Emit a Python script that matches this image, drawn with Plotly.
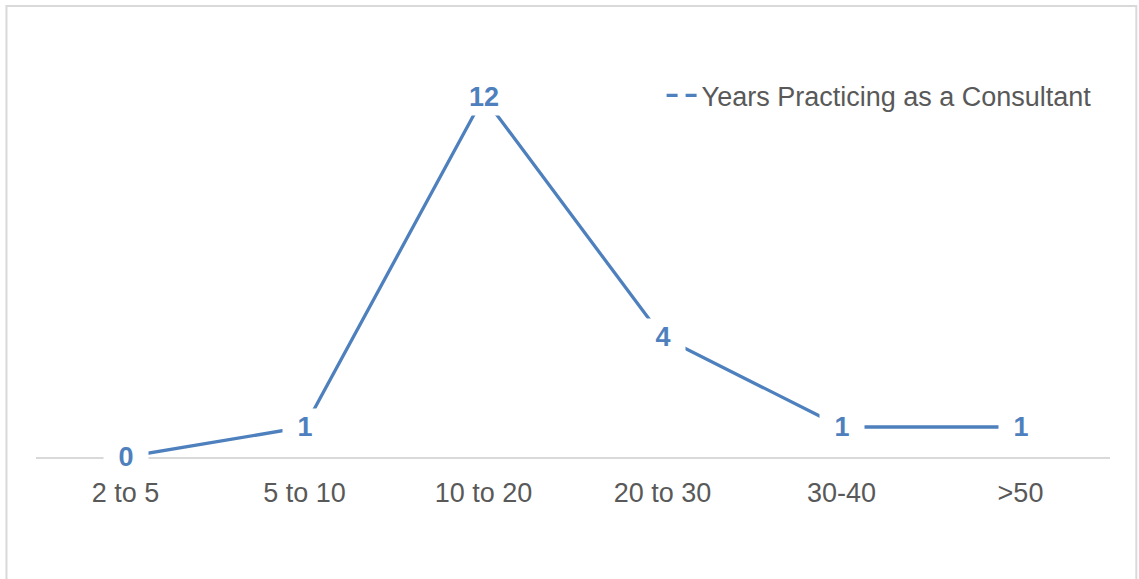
import plotly.graph_objects as go

# Years practicing as a consultant: respondent counts per band
categories = ["2 to 5", "5 to 10", "10 to 20", "20 to 30", "30-40", ">50"]
counts = [0, 1, 12, 4, 1, 1]
series_name = "Years Practicing as a Consultant"

BLUE = "#4E80BD"
GRAY_TEXT = "#595959"
AXIS_GRAY = "#D9D9D9"
FONT = "Liberation Sans, Arial, sans-serif"
FS = 27

fig = go.Figure()

# Main line
fig.add_trace(go.Scatter(
    x=categories, y=counts, mode="lines",
    line=dict(color=BLUE, width=3.3),
    showlegend=False, hoverinfo="x+y",
))

# Legend entry (dashed sample line)
fig.add_trace(go.Scatter(
    x=[None], y=[None], mode="lines", name=series_name,
    line=dict(color=BLUE, width=3.3, dash="11px,8px,11px"),
    showlegend=True,
))

# Value labels on white boxes that break the line around them
for cat, val in zip(categories, counts):
    fig.add_annotation(
        x=cat, y=val, xref="x", yref="y", text=f"<b>{val}</b>",
        showarrow=False, bgcolor="white", width=38, borderpad=3,
        font=dict(family=FONT, size=FS, color=BLUE),
        xanchor="center", yanchor="middle",
    )

# Chart frame
fig.add_shape(
    type="rect", xref="paper", yref="paper",
    x0=-0.0275, x1=1.0245, y0=-0.32, y1=1.1564,
    line=dict(color=AXIS_GRAY, width=2), fillcolor="rgba(0,0,0,0)",
    layer="below",
)

fig.update_layout(
    width=1139, height=579,
    margin=dict(l=36, r=29, t=67, b=122),
    paper_bgcolor="white", plot_bgcolor="white",
    font=dict(family=FONT, size=FS, color=GRAY_TEXT),
    legend=dict(
        x=0.5825, y=0.926, xanchor="left", yanchor="middle",
        bgcolor="rgba(0,0,0,0)", borderwidth=0,
        font=dict(family=FONT, size=FS, color=GRAY_TEXT),
    ),
    xaxis=dict(
        type="category", range=[-0.5, 5.5],
        showline=True, linecolor=AXIS_GRAY, linewidth=2,
        showgrid=False, zeroline=False, ticks="",
        ticklabelstandoff=11,
        tickfont=dict(family=FONT, size=FS, color=GRAY_TEXT),
        fixedrange=True,
    ),
    yaxis=dict(
        range=[0, 13], visible=False, showgrid=False, zeroline=False,
        fixedrange=True,
    ),
)

fig.write_html("out.html")
